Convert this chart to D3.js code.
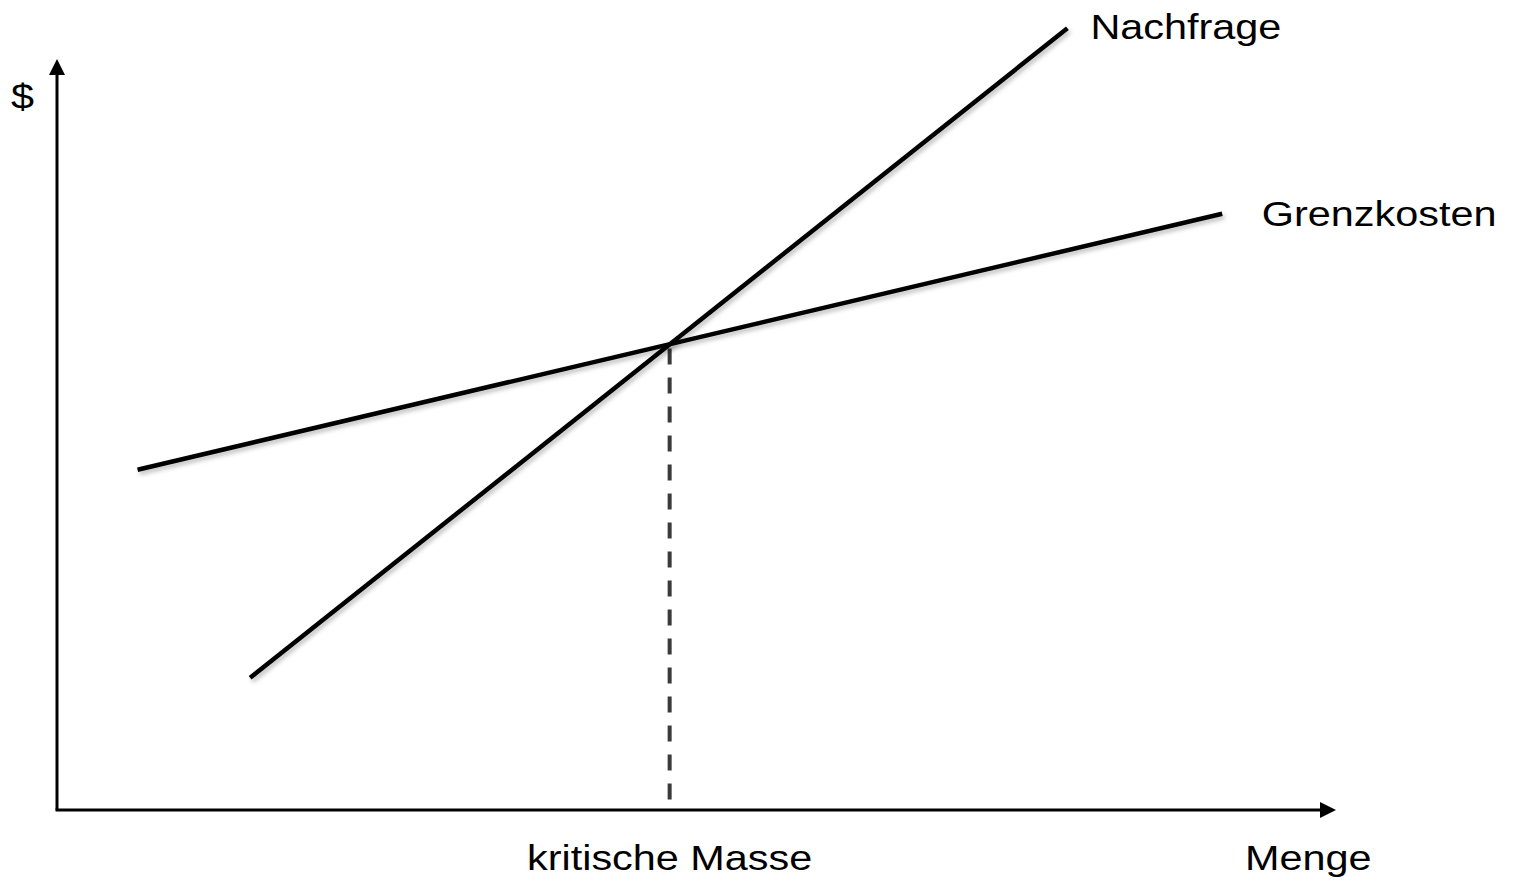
<!DOCTYPE html>
<html>
<head>
<meta charset="utf-8">
<script src="https://cdn.jsdelivr.net/npm/d3@7"></script>
<style>
  html, body { margin: 0; padding: 0; background: #fff; }
  text { font-family: "Liberation Sans", Arial, sans-serif; fill: #000; }
</style>
</head>
<body>
<div id="chart"></div>
<script>
// curves in abstract units (quantity, price)
const demand = [{ q: 1.51, p: 1.76 }, { q: 7.90, p: 10.41 }];
const marginalCost = [{ q: 0.63, p: 4.53 }, { q: 9.11, p: 7.94 }];
const criticalMass = { q: 4.79, p: 6.20 };

const curveLabels = [
  { text: "Nachfrage", q: 8.08, p: 10.26 },
  { text: "Grenzkosten", q: 9.42, p: 7.77 }
];
const axisLabels = { y: "$", x: "Menge", marker: "kritische Masse" };

const W = 1516, H = 885;
const svg = d3.select("#chart").append("svg")
  .attr("width", W)
  .attr("height", H);

const x = d3.scaleLinear().domain([0, 10]).range([57, 1336]);
const y = d3.scaleLinear().domain([0, 10]).range([810, 59]);

const defs = svg.append("defs");
const shadow = defs.append("filter").attr("id", "shadow")
  .attr("x", "-10%").attr("y", "-10%").attr("width", "120%").attr("height", "120%");
shadow.append("feDropShadow")
  .attr("dx", 2).attr("dy", 3).attr("stdDeviation", 2)
  .attr("flood-color", "#000").attr("flood-opacity", 0.25);

// axes with arrow heads
const head = 16;
svg.append("line")
  .attr("x1", x(0)).attr("y1", y(0))
  .attr("x2", x(0)).attr("y2", y(10) + head)
  .attr("stroke", "#000").attr("stroke-width", 3);
svg.append("path")
  .attr("d", `M${x(0)},${y(10)} L${x(0) - 8},${y(10) + head} L${x(0) + 8},${y(10) + head} Z`)
  .attr("fill", "#000");

svg.append("line")
  .attr("x1", x(0) - 1.5).attr("y1", y(0))
  .attr("x2", x(10) - head).attr("y2", y(0))
  .attr("stroke", "#000").attr("stroke-width", 3);
svg.append("path")
  .attr("d", `M${x(10)},${y(0)} L${x(10) - head},${y(0) - 8} L${x(10) - head},${y(0) + 8} Z`)
  .attr("fill", "#000");

// dashed drop line at the critical mass
svg.append("line")
  .attr("x1", x(criticalMass.q)).attr("y1", y(criticalMass.p))
  .attr("x2", x(criticalMass.q)).attr("y2", y(0) - 2)
  .attr("stroke", "#3a3a3a").attr("stroke-width", 4)
  .attr("stroke-dasharray", "16 13")
  .attr("stroke-dashoffset", 25);

const line = d3.line().x(d => x(d.q)).y(d => y(d.p));

svg.selectAll(".curve")
  .data([marginalCost, demand])
  .enter()
  .append("path")
  .attr("class", "curve")
  .attr("d", line)
  .attr("fill", "none")
  .attr("stroke", "#000")
  .attr("stroke-width", 4.5)
  .attr("filter", "url(#shadow)");

// labels (the source text is slightly stretched horizontally)
function label(txt, px, py, anchor) {
  svg.append("text")
    .attr("transform", `translate(${px},${py}) scale(1.15,1)`)
    .attr("text-anchor", anchor || "start")
    .style("font-size", "36px")
    .text(txt);
}

curveLabels.forEach(d => label(d.text, x(d.q), y(d.p)));
label(axisLabels.y, 11, 109);
label(axisLabels.x, 1245, 870);
label(axisLabels.marker, x(criticalMass.q), 870, "middle");
</script>
</body>
</html>
